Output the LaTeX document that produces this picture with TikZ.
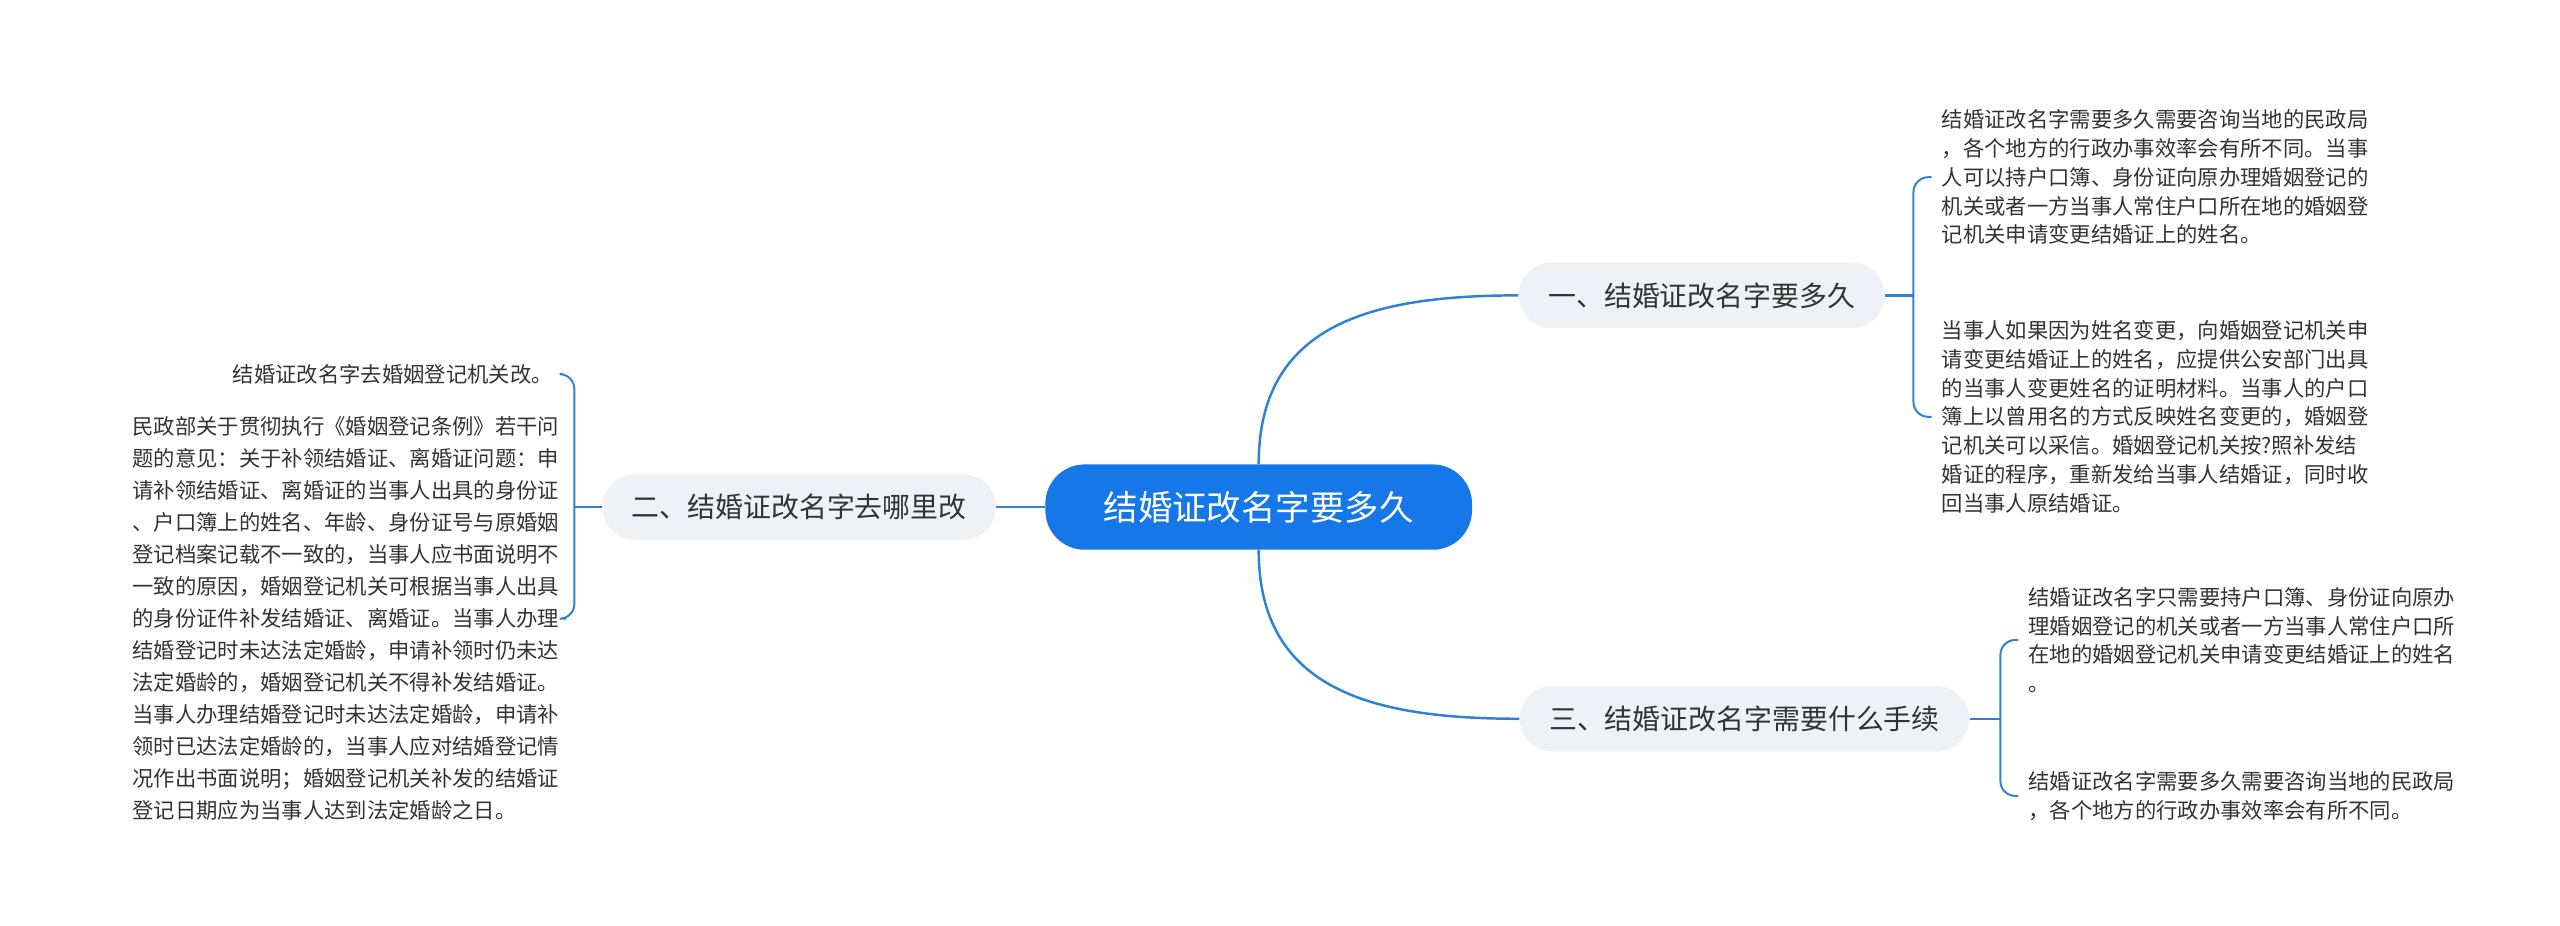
\documentclass[tikz,border=0pt]{standalone}
\usepackage{fontspec}
\usetikzlibrary{calc}
\newfontfamily\cjk{Noto Sans CJK SC}
\definecolor{rootblue}{HTML}{1677E8}
\definecolor{linec}{HTML}{2F80D8}
\definecolor{pill}{HTML}{EEF1F5}
\definecolor{txt}{HTML}{333333}
\begin{document}
\begin{tikzpicture}[x=1pt,y=-1pt,
  rootbox/.style={fill=rootblue,rounded corners=24pt,minimum width=260pt,minimum height=52pt,text=white,font=\cjk\fontsize{21}{25}\selectfont},
  branch/.style={fill=pill,rounded corners=20pt,minimum height=40pt,inner xsep=18pt,text=txt,font=\cjk\fontsize{17}{20}\selectfont},
  leaf/.style={align=left,text=txt,inner sep=0pt,font=\cjk\fontsize{13}{17.5}\selectfont},
  leafl/.style={align=left,text=txt,inner sep=0pt,font=\cjk\fontsize{13}{19.5}\selectfont},
  conn/.style={draw=linec,line width=1.5pt},
  brk/.style={draw=linec,line width=1.2pt,rounded corners=9pt}]
\useasboundingbox (0,0) rectangle (1560,563.7);
\node[rootbox] (root) at (767,309) {结婚证改名字要多久};
\node[branch] (b1) at (1037,180) {一、结婚证改名字要多久};
\node[branch] (b2) at (487,309) {二、结婚证改名字去哪里改};
\node[branch] (b3) at (1063,438) {三、结婚证改名字需要什么手续};
\draw[conn] (root.north) .. controls +(0,-85) and +(-90,0) .. (b1.west);
\draw[conn] (root.south) .. controls +(0,85) and +(-90,0) .. (b3.west);
\draw[conn] (root.west) -- (b2.east);
\node[leaf,anchor=west] (l1a) at (1183,108) {结婚证改名字需要多久需要咨询当地的民政局\\，各个地方的行政办事效率会有所不同。当事\\人可以持户口簿、身份证向原办理婚姻登记的\\机关或者一方当事人常住户口所在地的婚姻登\\记机关申请变更结婚证上的姓名。};
\node[leaf,anchor=west] (l1b) at (1183,254) {当事人如果因为姓名变更，向婚姻登记机关申\\请变更结婚证上的姓名，应提供公安部门出具\\的当事人变更姓名的证明材料。当事人的户口\\簿上以曾用名的方式反映姓名变更的，婚姻登\\记机关可以采信。婚姻登记机关按?照补发结\\婚证的程序，重新发给当事人结婚证，同时收\\回当事人原结婚证。};
\node[leaf,anchor=east] (l2a) at (337,228) {结婚证改名字去婚姻登记机关改。};
\node[leafl,anchor=east] (l2b) at (341,377) {民政部关于贯彻执行《婚姻登记条例》若干问\\题的意见：关于补领结婚证、离婚证问题：申\\请补领结婚证、离婚证的当事人出具的身份证\\、户口簿上的姓名、年龄、身份证号与原婚姻\\登记档案记载不一致的，当事人应书面说明不\\一致的原因，婚姻登记机关可根据当事人出具\\的身份证件补发结婚证、离婚证。当事人办理\\结婚登记时未达法定婚龄，申请补领时仍未达\\法定婚龄的，婚姻登记机关不得补发结婚证。\\当事人办理结婚登记时未达法定婚龄，申请补\\领时已达法定婚龄的，当事人应对结婚登记情\\况作出书面说明；婚姻登记机关补发的结婚证\\登记日期应为当事人达到法定婚龄之日。};
\node[leaf,anchor=west] (l3a) at (1236,390) {结婚证改名字只需要持户口簿、身份证向原办\\理婚姻登记的机关或者一方当事人常住户口所\\在地的婚姻登记机关申请变更结婚证上的姓名\\。};
\node[leaf,anchor=west] (l3b) at (1236,485) {结婚证改名字需要多久需要咨询当地的民政局\\，各个地方的行政办事效率会有所不同。};
% branch 1 bracket
\draw[brk] ($(l1a.west)+(-6,0)$) -- (1166,108) -- (1166,254) -- ($(l1b.west)+(-6,0)$);
\draw[conn] (b1.east) -- (1166,180);
% branch 2 bracket
\draw[brk] ($(l2a.east)+(6,0)$) -- (350,228) -- (350,377) -- ($(l2b.east)+(4,0)$);
\draw[conn] (b2.west) -- (350,309);
% branch 3 bracket
\draw[brk] ($(l3a.west)+(-6,0)$) -- (1219,390) -- (1219,485) -- ($(l3b.west)+(-6,0)$);
\draw[conn] (b3.east) -- (1219,438);
\end{tikzpicture}
\end{document}
